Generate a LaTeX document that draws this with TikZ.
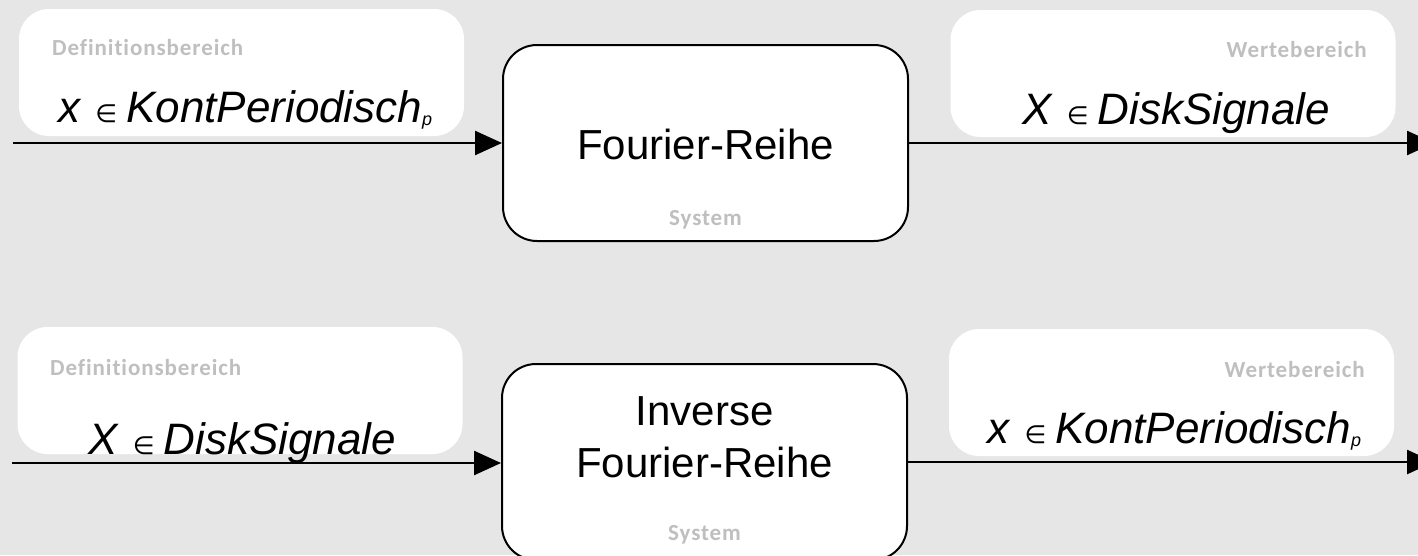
\documentclass[tikz,border=0pt]{standalone}
\usepackage{fontspec}
\setmainfont{Liberation Sans}
\newfontfamily\labelfont[LetterSpace=4,Ligatures=NoCommon]{Carlito}
\newfontfamily\symfont{DejaVu Sans}
\usetikzlibrary{arrows.meta}
\definecolor{canvas}{HTML}{E6E6E6}
\definecolor{tag}{HTML}{BFBFBF}

% small element-of sign sitting on the baseline
\newcommand{\elem}{{\symfont\fontsize{25}{25}\selectfont ∈}}
\newcommand{\kontp}{\textit{x}\hspace{14pt}\elem\hspace{9pt}\textit{KontPeriodisch}\raisebox{-3pt}{\fontsize{18}{18}\selectfont\itshape p}}
\newcommand{\disks}{\textit{X}\hspace{14pt}\elem\hspace{9pt}\textit{DiskSignale}}

\begin{document}
\begin{tikzpicture}[x=1pt,y=-1pt,
  setbox/.style={fill=white, draw=none, rounded corners=30pt, inner sep=0pt,
    minimum width=445pt, minimum height=127pt},
  sysbox/.style={fill=white, draw=black, line width=2pt, rounded corners=34pt,
    inner sep=0pt, minimum width=405pt, minimum height=196pt},
  flow/.style={line width=2.5pt, -{Triangle[length=27pt,width=24pt]}},
  tagtext/.style={inner sep=0pt, text=tag, font=\labelfont\bfseries\fontsize{23}{23}\selectfont},
  settext/.style={inner sep=0pt, anchor=base west, font=\fontsize{44}{44}\selectfont},
  systext/.style={inner sep=0pt, anchor=base, font=\fontsize{42}{42}\selectfont}]

  % canvas
  \fill[canvas] (0,0) rectangle (1418,555);
  \useasboundingbox (0,0) rectangle (1418,555);

  % ---------- Fourier series ----------
  \node[setbox] (dom1) at (241.5,72.5) {};
  \node[setbox] (ran1) at (1173,73.5) {};
  \node[sysbox] (sys1) at (705.5,143) {};
  \coordinate (in1) at (13,143);
  \coordinate (out1) at (1434,143);
  \draw[flow] (in1) -- (sys1.west);
  \draw[flow] (sys1.east) -- (out1);

  \node[tagtext, anchor=base west] (dom1tag) at (52,55) {Definitionsbereich};
  \node[settext] (dom1set) at (58,122) {\kontp};
  \node[tagtext, anchor=base east] (ran1tag) at (1367,57) {Wertebereich};
  \node[settext] (ran1set) at (1022,124) {\disks};
  \node[systext] (sys1name) at (705.5,159) {Fourier-Reihe};
  \node[tagtext, anchor=base] (sys1tag) at (705.5,225) {System};

  % ---------- inverse Fourier series ----------
  \node[setbox] (dom2) at (240,390.5) {};
  \node[setbox] (ran2) at (1171.5,392.5) {};
  \node[sysbox] (sys2) at (704.5,462) {};
  \coordinate (in2) at (12,463);
  \coordinate (out2) at (1434,462);
  \draw[flow] (in2) -- (sys2.west |- in2);
  \draw[flow] (sys2.east) -- (out2);

  \node[tagtext, anchor=base west] (dom2tag) at (50,375) {Definitionsbereich};
  \node[settext] (dom2set) at (88,454) {\disks};
  \node[tagtext, anchor=base east] (ran2tag) at (1365,377) {Wertebereich};
  \node[settext] (ran2set) at (987,443) {\kontp};
  \node[systext] (sys2name1) at (704.5,425) {Inverse};
  \node[systext] (sys2name2) at (704.5,477) {Fourier-Reihe};
  \node[tagtext, anchor=base] (sys2tag) at (704.5,540) {System};
\end{tikzpicture}
\end{document}
